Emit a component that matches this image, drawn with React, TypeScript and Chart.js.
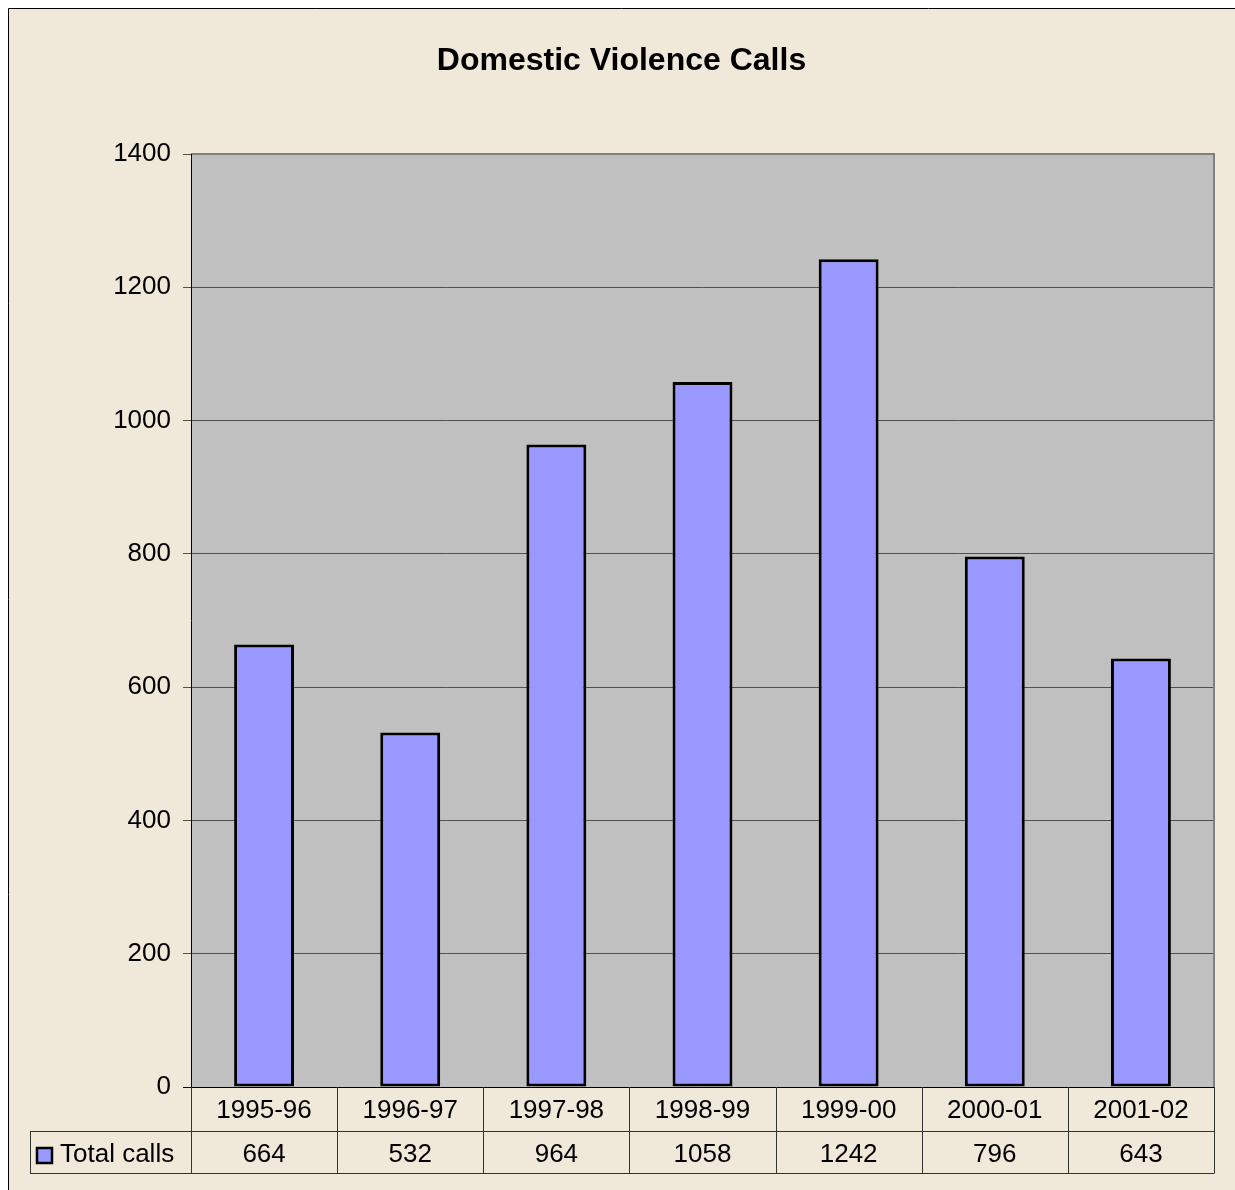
import React, { useEffect, useRef } from "react";
import { Chart, registerables } from "chart.js";

Chart.register(...registerables);

const title = "Domestic Violence Calls";
const categories = ["1995-96", "1996-97", "1997-98", "1998-99", "1999-00", "2000-01", "2001-02"];
const seriesName = "Total calls";
const totalCalls = [664, 532, 964, 1058, 1242, 796, 643];
const yMin = 0;
const yMax = 1400;
const yStep = 200;

const W = 1227;
const H = 1182;
const BG = "#F0E8D9";
const PLOT_BG = "#C0C0C0";
const BAR = "#9999FF";
const FONT = "'Liberation Sans', Arial, sans-serif";

const decorPlugin = {
  id: "decor",
  beforeDraw(chart: any) {
    const { ctx, chartArea } = chart;
    ctx.save();
    ctx.fillStyle = BG;
    ctx.fillRect(0, 0, chart.width, chart.height);
    ctx.fillStyle = PLOT_BG;
    ctx.fillRect(chartArea.left, chartArea.top, chartArea.right - chartArea.left, chartArea.bottom - chartArea.top);
    // outer frame (top & left)
    ctx.strokeStyle = "#000";
    ctx.lineWidth = 1;
    ctx.beginPath();
    ctx.moveTo(0.5, chart.height);
    ctx.lineTo(0.5, 0.5);
    ctx.lineTo(chart.width, 0.5);
    ctx.stroke();
    // title
    ctx.fillStyle = "#000";
    ctx.font = `bold 32px ${FONT}`;
    ctx.textAlign = "center";
    ctx.textBaseline = "middle";
    ctx.fillText(title, chart.width / 2, 53);
    ctx.restore();
  },
  afterDatasetsDraw(chart: any) {
    const { ctx, chartArea } = chart;
    const xs = chart.scales.x;
    ctx.save();
    // plot border top/right gray
    ctx.strokeStyle = "#808080";
    ctx.lineWidth = 2;
    ctx.beginPath();
    ctx.moveTo(chartArea.left, chartArea.top);
    ctx.lineTo(chartArea.right, chartArea.top);
    ctx.lineTo(chartArea.right, chartArea.bottom);
    ctx.stroke();
    // axis lines
    ctx.strokeStyle = "#000";
    ctx.lineWidth = 1;
    ctx.beginPath();
    ctx.moveTo(chartArea.left - 8, chartArea.bottom + 0.5);
    ctx.lineTo(chartArea.right, chartArea.bottom + 0.5);
    ctx.moveTo(chartArea.left + 0.5, chartArea.top);
    ctx.lineTo(chartArea.left + 0.5, chartArea.bottom);
    ctx.stroke();

    // data table
    const n = categories.length;
    const cw = (chartArea.right - chartArea.left) / n;
    const rowH = 44;
    const y0 = chartArea.bottom;
    const y1 = y0 + rowH;
    const y2 = y1 + 42;
    const legLeft = 22;
    ctx.strokeStyle = "#333";
    ctx.lineWidth = 1;
    ctx.beginPath();
    ctx.moveTo(legLeft, Math.round(y1) + 0.5);
    ctx.lineTo(chartArea.right, Math.round(y1) + 0.5);
    ctx.moveTo(legLeft, Math.round(y2) + 0.5);
    ctx.lineTo(chartArea.right, Math.round(y2) + 0.5);
    ctx.moveTo(legLeft + 0.5, Math.round(y1));
    ctx.lineTo(legLeft + 0.5, Math.round(y2));
    for (let i = 0; i <= n; i++) {
      const x = Math.round(chartArea.left + i * cw) + 0.5;
      ctx.moveTo(x, y0);
      ctx.lineTo(x, Math.round(y2) + 0.5);
    }
    ctx.stroke();

    ctx.fillStyle = "#000";
    ctx.font = `26px ${FONT}`;
    ctx.textAlign = "center";
    ctx.textBaseline = "middle";
    categories.forEach((c, i) => {
      const cx = xs.getPixelForValue(i);
      ctx.fillText(c, cx, y0 + 24);
      ctx.fillText(String(totalCalls[i]), cx, y1 + 24);
    });
    // legend key
    ctx.fillStyle = BAR;
    ctx.fillRect(29, y1 + 17, 15, 15);
    ctx.strokeStyle = "#000";
    ctx.lineWidth = 2.5;
    ctx.strokeRect(29, y1 + 17, 15, 15);
    ctx.fillStyle = "#000";
    ctx.textAlign = "left";
    ctx.fillText(seriesName, 52, y1 + 24);
    ctx.restore();
  },
};

export default function App() {
  const ref = useRef<HTMLCanvasElement>(null);
  useEffect(() => {
    document.documentElement.style.overflow = "hidden";
    document.body.style.overflow = "hidden";
    const chart = new Chart(ref.current!, {
      type: "bar",
      data: {
        labels: categories,
        datasets: [
          {
            label: seriesName,
            data: totalCalls,
            backgroundColor: BAR,
            borderColor: "#000",
            borderWidth: 3,
            borderSkipped: false,
            categoryPercentage: 1,
            barPercentage: 0.41,
          },
        ],
      },
      options: {
        animation: false,
        responsive: false,
        maintainAspectRatio: false,
        layout: { padding: { top: 146, right: 21, bottom: 103, left: 0 } },
        plugins: {
          legend: { display: false },
          tooltip: { enabled: false },
          title: { display: false },
        },
        scales: {
          x: { display: false },
          y: {
            min: yMin,
            max: yMax,
            afterFit: (s: any) => {
              s.width = 183;
            },
            ticks: {
              stepSize: yStep,
              color: "#000",
              font: { family: FONT, size: 26 },
              padding: 12,
              callback: (v: any) => String(v),
            },
            grid: {
              color: "#505050",
              lineWidth: 1,
              tickLength: 8,
              drawTicks: true,
            },
            border: { display: false },
          },
        },
      },
      plugins: [decorPlugin],
    });
    return () => chart.destroy();
  }, []);
  return (
    <div style={{ position: "absolute", left: 8, top: 8, width: W, height: H, overflow: "hidden", background: BG }}>
      <canvas ref={ref} width={W} height={H} style={{ display: "block", width: W, height: H }} />
    </div>
  );
}
